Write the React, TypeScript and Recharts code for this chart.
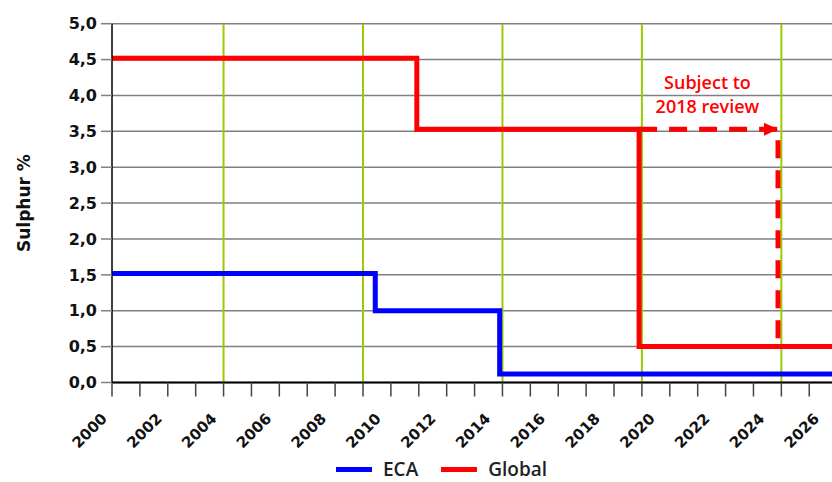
import { LineChart, Line, XAxis, YAxis, CartesianGrid, ReferenceLine, ReferenceDot } from 'recharts';

// year ticks on the x axis (labels only on even years)
const yearTicks = [
  2000, 2001, 2002, 2003, 2004, 2005, 2006, 2007, 2008, 2009, 2010, 2011, 2012, 2013,
  2014, 2015, 2016, 2017, 2018, 2019, 2020, 2021, 2022, 2023, 2024, 2025, 2026,
];
const sulphurTicks = [0, 0.5, 1, 1.5, 2, 2.5, 3, 3.5, 4, 4.5, 5];
const markerYears = [2004, 2009, 2014, 2019, 2024];

// step series
const ecaData = [
  { year: 2000, value: 1.52 },
  { year: 2009.44, value: 1.0 },
  { year: 2013.9, value: 0.12 },
  { year: 2026.82, value: 0.12 },
];
const globalData = [
  { year: 2000, value: 4.52 },
  { year: 2010.93, value: 3.53 },
  { year: 2018.9, value: 0.5 },
  { year: 2026.82, value: 0.5 },
];
const reviewData = [
  { year: 2018.9, value: 3.53 },
  { year: 2023.88, value: 3.53 },
  { year: 2023.88, value: 0.5 },
];
const reviewNote = { year: 2021.35, value: 4.0, lines: ['Subject to', '2018 review'] };

const series = [
  { name: 'ECA', color: '#0000ff' },
  { name: 'Global', color: '#ff0000' },
];

const tickFont = { fontFamily: 'DejaVu Sans', fontWeight: 'bold' as const };

// the labels in the source sit slightly left of their ticks, more so to the right
const YearTick = (props: any) => {
  const { x, y, payload, index } = props;
  if (payload.value % 2 !== 0) return <g />;
  const tx = x - 4 - index * 0.5;
  const ty = y + 21;
  return (
    <text
      x={tx}
      y={ty}
      transform={`rotate(-45 ${tx} ${ty})`}
      textAnchor="end"
      fill="#111"
      fontSize={15}
      {...tickFont}
    >
      {payload.value}
    </text>
  );
};

const ArrowDot = (props: any) => {
  const { cx, cy, index } = props;
  if (index !== 1) return <g key={index} />;
  return (
    <path
      key={index}
      d={`M ${cx} ${cy} L ${cx - 14} ${cy - 6.5} L ${cx - 14} ${cy + 6.5} Z`}
      fill="#ff0000"
    />
  );
};

const NoteLabel = (props: any) => {
  const { viewBox } = props;
  const cx = viewBox.x + viewBox.width / 2;
  const cy = viewBox.y + viewBox.height / 2;
  return (
    <text textAnchor="middle" fill="#ff0000" fontFamily="Open Sans" fontWeight={600} fontSize={18}>
      <tspan x={cx} y={cy - 6}>{reviewNote.lines[0]}</tspan>
      <tspan x={cx} y={cy + 18}>{reviewNote.lines[1]}</tspan>
    </text>
  );
};

const AxisTitle = (props: any) => {
  const { viewBox } = props;
  const x = 24;
  const y = viewBox.y + viewBox.height / 2;
  return (
    <text
      x={x}
      y={y}
      transform={`rotate(-90 ${x} ${y})`}
      textAnchor="middle"
      dominantBaseline="central"
      fill="#111"
      fontSize={17}
      {...tickFont}
    >
      Sulphur %
    </text>
  );
};

export default function App() {
  return (
    <div style={{ position: 'absolute', left: 0, top: 0, width: 832, height: 482, overflow: 'hidden', background: '#fff' }}>
      <LineChart width={860} height={482} margin={{ top: 23.7, right: 0, bottom: 39.5, left: 0 }}>
        <CartesianGrid vertical={false} stroke="#808080" strokeWidth={1.5} />
        {markerYears.map((yr) => (
          <ReferenceLine key={yr} x={yr} stroke="#99cc00" strokeWidth={2} />
        ))}
        <XAxis
          type="number"
          dataKey="year"
          domain={[2000, 2026.82]}
          ticks={yearTicks}
          interval={0}
          allowDataOverflow
          height={60}
          tickSize={14}
          tick={<YearTick />}
          axisLine={{ stroke: '#000', strokeWidth: 2 }}
          tickLine={{ stroke: '#444', strokeWidth: 1.5 }}
        />
        <YAxis
          type="number"
          domain={[0, 5]}
          ticks={sulphurTicks}
          interval={0}
          width={112}
          tickSize={11}
          tickMargin={4}
          tickFormatter={(v: number) => v.toFixed(1).replace('.', ',')}
          tick={{ fill: '#111', fontSize: 16, ...tickFont }}
          axisLine={{ stroke: '#000', strokeWidth: 1.5 }}
          tickLine={{ stroke: '#808080', strokeWidth: 1.5 }}
          label={<AxisTitle />}
        />
        <Line
          data={ecaData}
          dataKey="value"
          type="stepAfter"
          stroke={series[0].color}
          strokeWidth={5}
          dot={false}
          isAnimationActive={false}
        />
        <Line
          data={reviewData}
          dataKey="value"
          type="linear"
          stroke={series[1].color}
          strokeWidth={5}
          strokeDasharray="18 12"
          dot={<ArrowDot />}
          isAnimationActive={false}
        />
        <Line
          data={globalData}
          dataKey="value"
          type="stepAfter"
          stroke={series[1].color}
          strokeWidth={5}
          dot={false}
          isAnimationActive={false}
        />
        <ReferenceDot x={reviewNote.year} y={reviewNote.value} r={0} stroke="none" label={<NoteLabel />} />
      </LineChart>
      <div
        style={{
          position: 'absolute',
          left: 336,
          top: 455,
          height: 28,
          display: 'flex',
          alignItems: 'center',
          fontFamily: 'Open Sans',
          fontWeight: 600,
          fontSize: 19,
          color: '#222',
        }}
      >
        {series.map((s) => (
          <div key={s.name} style={{ display: 'flex', alignItems: 'center', marginRight: 23 }}>
            <div style={{ width: 36, height: 5, background: s.color, marginRight: 11 }} />
            <span>{s.name}</span>
          </div>
        ))}
      </div>
    </div>
  );
}
